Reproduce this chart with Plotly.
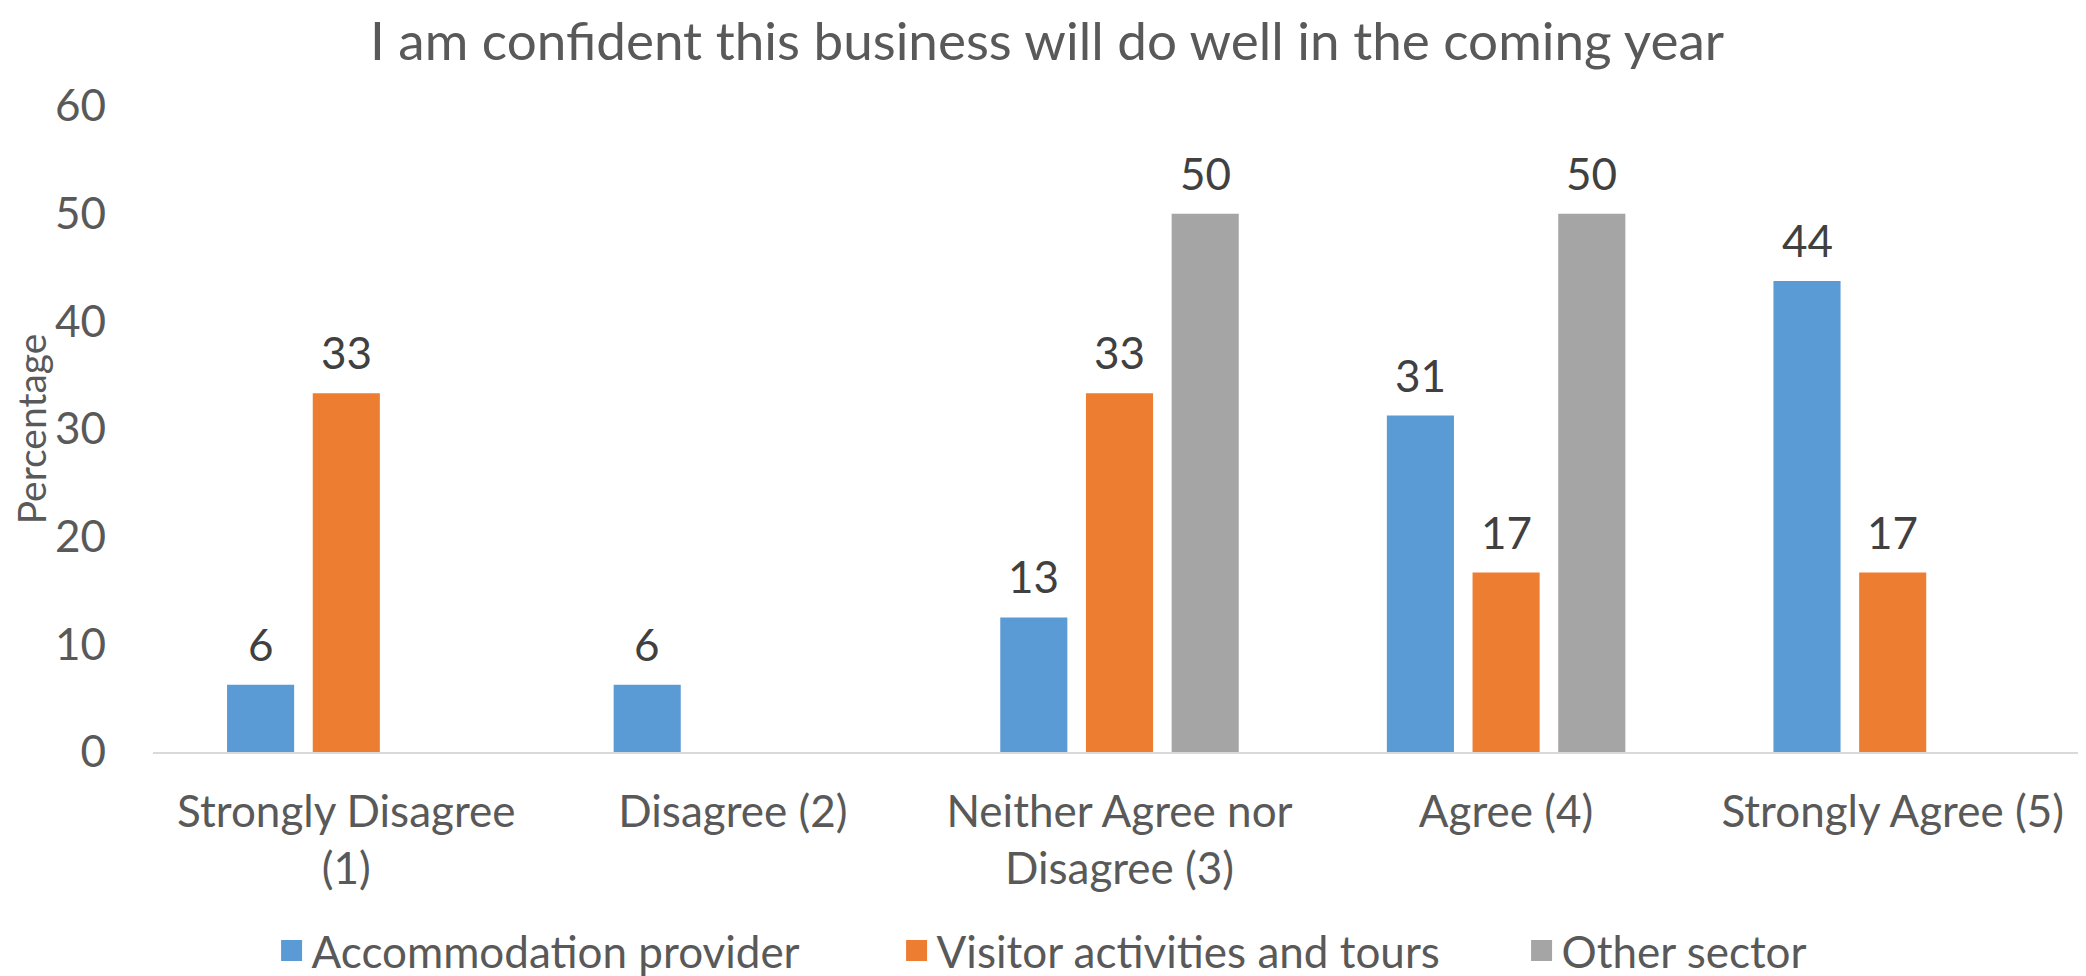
import math
import plotly.graph_objects as go

# ---- data ----
categories = ["Strongly Disagree<br>(1)", "Disagree (2)", "Neither Agree nor<br>Disagree (3)",
              "Agree (4)", "Strongly Agree (5)"]
accommodation = [6.25, 6.25, 12.5, 31.25, 43.75]
visitor = [33.33, None, 33.33, 16.67, 16.67]
other = [None, None, 50.0, 50.0, None]
series_names = ["Accommodation provider", "Visitor activities and tours", "Other sector"]
series_colors = ["#5B9BD5", "#ED7D31", "#A5A5A5"]
y_ticks = [0, 10, 20, 30, 40, 50, 60]
title_text = "I am confident this business will do well in the coming year"
y_title = "Percentage"

FONT = "Lato, Calibri, sans-serif"
BARGAP = 0.335
BARGROUPGAP = 0.217

# the page body has an 8px default margin, so the figure is sized to fit inside it
W, H = 2078, 968

series_values = [accommodation, visitor, other]

fig = go.Figure()
for name, vals, col in zip(series_names, series_values, series_colors):
    fig.add_trace(go.Bar(
        x=categories, y=vals, name=name, marker=dict(color=col, line=dict(width=0)),
        showlegend=False, hoverinfo="x+y+name",
    ))
# legend entries (larger square swatches)
for name, col in zip(series_names, series_colors):
    fig.add_trace(go.Scatter(
        x=[None], y=[None], mode="markers", name=name,
        marker=dict(symbol="square", size=16, color=col, line=dict(color=col, width=5)),
        showlegend=True, hoverinfo="skip",
    ))

# data labels placed above each bar (positions from category index + group offset)
n_series = len(series_values)
slot = (1 - BARGAP) / n_series
annotations = []
for j, vals in enumerate(series_values):
    for i, v in enumerate(vals):
        if v is None:
            continue
        annotations.append(dict(
            x=i + (j - (n_series - 1) / 2) * slot, y=v, xref="x", yref="y",
            text=str(int(math.floor(v + 0.5))), showarrow=False,
            xanchor="center", yanchor="bottom", yshift=13,
            font=dict(family=FONT, size=44, color="#404040"),
        ))

fig.update_layout(
    width=W, height=H,
    margin=dict(l=145, r=0, t=98, b=224),
    paper_bgcolor="white", plot_bgcolor="white",
    barmode="group", bargap=BARGAP, bargroupgap=BARGROUPGAP,
    font=dict(family=FONT, color="#595959"),
    title=dict(text=title_text, x=0.5, xanchor="center", xref="container",
               y=1 - 33 / H, yanchor="middle", yref="container",
               font=dict(family=FONT, size=53, color="#595959")),
    legend=dict(orientation="h", x=0.578, xanchor="center", xref="container",
                y=25 / H, yanchor="middle", yref="container",
                font=dict(family=FONT, size=44, color="#595959"),
                entrywidth=580, entrywidthmode="pixels", itemclick=False),
    xaxis=dict(showline=True, linecolor="#D9D9D9", linewidth=2, ticks="",
               showgrid=False, zeroline=False,
               tickfont=dict(family=FONT, size=44, color="#595959"),
               ticklabelstandoff=20),
    yaxis=dict(range=[0, 60], tickvals=y_ticks, ticks="", showgrid=False,
               zeroline=False, showline=False,
               tickfont=dict(family=FONT, size=44, color="#595959"),
               ticklabelstandoff=46,
               title=dict(text=y_title, font=dict(family=FONT, size=39, color="#595959"),
                          standoff=10)),
    annotations=annotations,
)

fig.write_html("out.html")
